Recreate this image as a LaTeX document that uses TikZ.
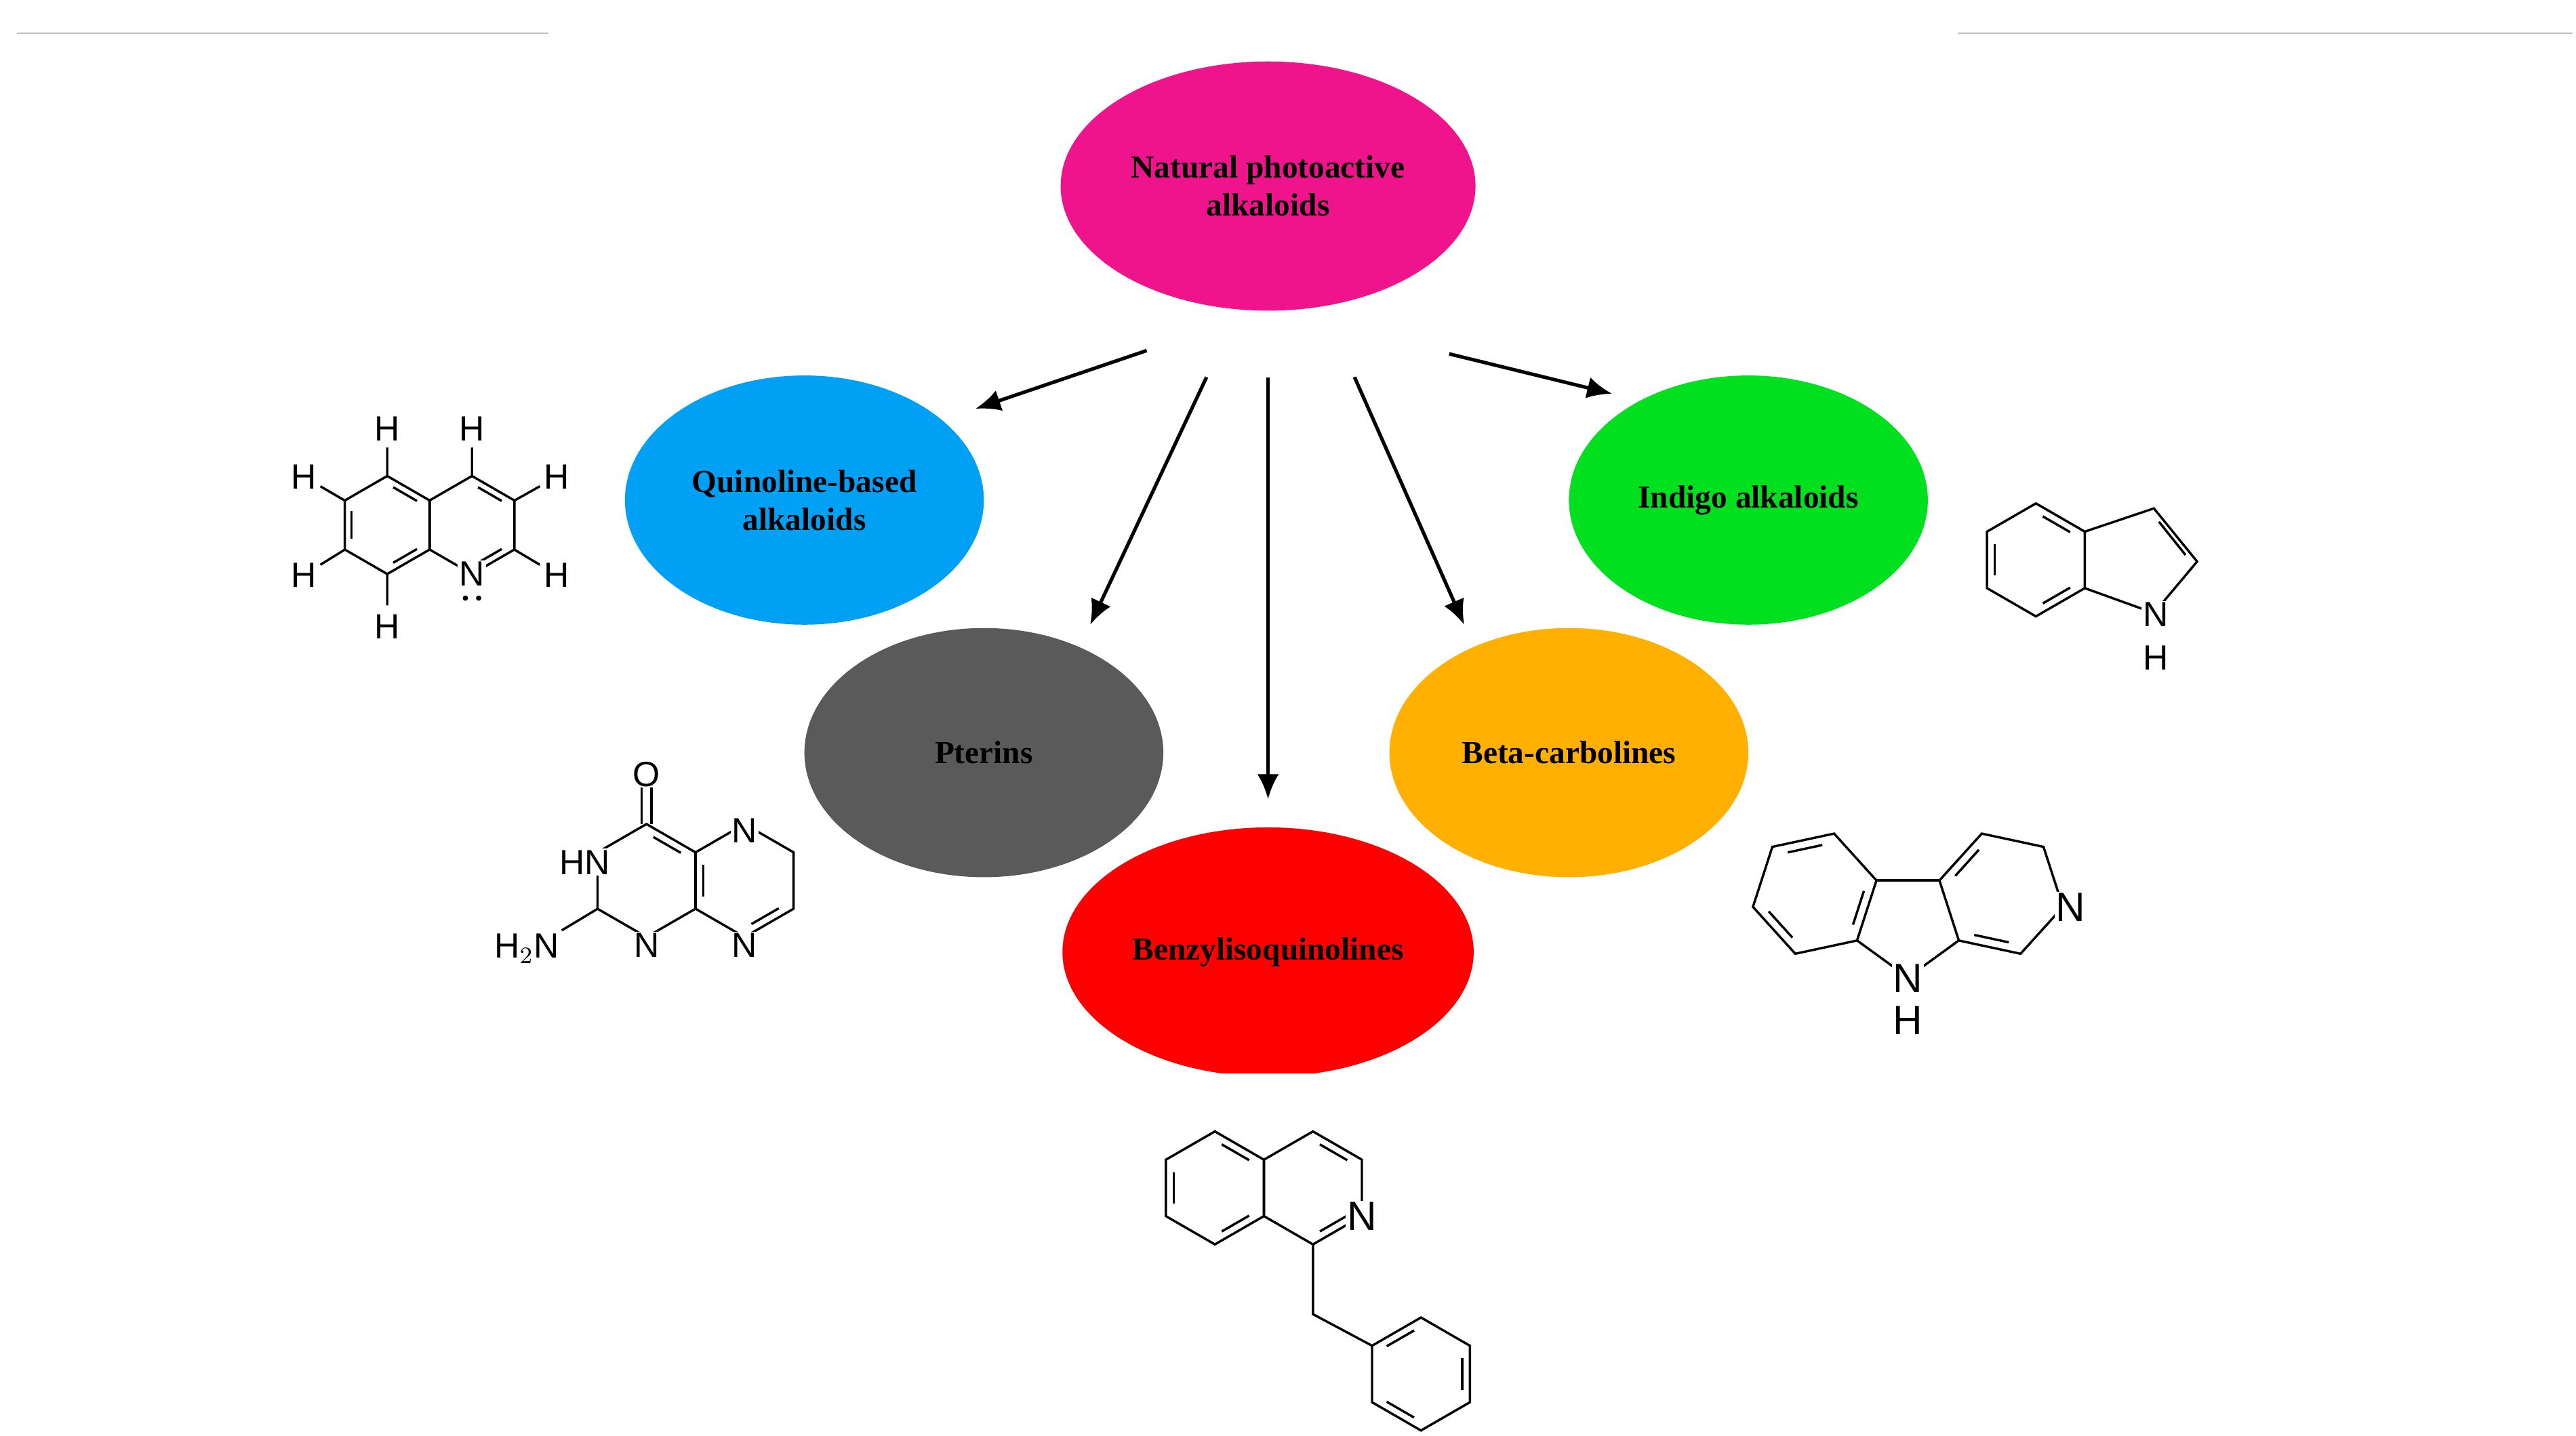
\documentclass[tikz,border=0pt]{standalone}
\usepackage{fontspec}
\setmainfont{Liberation Serif}
\newfontfamily\molfont{Liberation Sans}
\usetikzlibrary{shapes.geometric,arrows.meta,calc}

\tikzset{
	blob/.style={ellipse, draw=none, minimum width=4.32cm, minimum height=3cm, align=center,
		font=\fontsize{11}{13}\selectfont\bfseries},
	link/.style={line width=1.2pt, -{Latex[length=3mm,width=2.6mm]}},
	bond/.style={line width=0.8pt},
	atom/.style={font=\molfont\fontsize{12}{12}\selectfont, fill=white, inner sep=0.5pt},
	rule/.style={line width=0.6pt, black!25}
}
\definecolor{cNat}{HTML}{F0148C}
\definecolor{cQui}{HTML}{00A0F5}
\definecolor{cInd}{HTML}{00E01E}
\definecolor{cPte}{HTML}{5A5A5A}
\definecolor{cBet}{HTML}{FFB000}
\definecolor{cBen}{HTML}{FF0000}

% ring: centre x, centre y, radius, start angle, inner (double) bonds
\newcommand\ring[5]{%
	\draw[bond] ($(#1,#2)+(#4:#3)$) \foreach \k in {1,...,5}{ -- ($(#1,#2)+({#4+60*\k}:#3)$)} -- cycle;
	\foreach \k in {#5}{
		\draw[bond] ($(#1,#2)+({#4+60*\k+9}:0.78*#3)$) -- ($(#1,#2)+({#4+60*\k+51}:0.78*#3)$);}
}

\begin{document}
\begin{tikzpicture}[x=0.02cm, y=-0.02cm]
	\useasboundingbox (0,0) rectangle (1550,864);
	\draw[rule] (10,20) -- (330,20);
	\draw[rule] (1178,20) -- (1548,20);

	% categories
	\node[blob, fill=cNat] (nat) at (763,112) {Natural photoactive\\alkaloids};
	\node[blob, fill=cQui] (qui) at (484,301) {Quinoline-based\\alkaloids};
	\node[blob, fill=cInd] (ind) at (1052,301) {Indigo alkaloids};
	\node[blob, fill=cPte, text=black] (pte) at (592,453) {Pterins};
	\node[blob, fill=cBet] (bet) at (944,453) {Beta-carbolines};
	\begin{scope}
		\clip (0,0) rectangle (1550,646);
		\node[blob, fill=cBen] (ben) at (763,573) {Benzylisoquinolines};
	\end{scope}

	% arrows
	\coordinate (s1) at (690,211); \coordinate (e1) at (587,246);
	\coordinate (s2) at (726,227); \coordinate (e2) at (656,376);
	\coordinate (s3) at (763,227); \coordinate (e3) at (763,481);
	\coordinate (s4) at (815,227); \coordinate (e4) at (881,376);
	\coordinate (s5) at (872,213); \coordinate (e5) at (970,237);
	\foreach \i in {1,...,5}{\draw[link] (s\i) -- (e\i);}

	% quinoline
	\ring{233}{316}{29.5}{30}{0,2,4}
	\ring{284}{316}{29.5}{30}{0,4}
	\node[atom] (qN) at (284,345.5) {N};
	\fill (280,360) circle (1.6) (288,360) circle (1.6);
	\foreach \x/\y/\hx/\hy in {233/286.5/233/258, 284/286.5/284/258, 207.5/301.3/183/287,
		207.5/330.8/183/346, 233/345.5/233/377, 309.5/301.3/335/287, 309.5/330.8/335/346}{
		\draw[bond] (\x,\y) -- ($(\x,\y)!0.6!(\hx,\hy)$);
		\node[atom, fill=none] at (\hx,\hy) {H};}

	% indole
	\ring{1225}{337}{34}{30}{0,2,4}
	\draw[bond] (1254.4,320) -- (1296,306) -- (1322,338) -- (1296,369) -- (1254.4,354);
	\draw[bond] (1299,314) -- (1315,334);
	\node[atom] (iN) at (1297,370) {N};
	\node[atom, fill=none] (iH) at (1297,396) {H};

	% pterin
	\ring{389}{530}{34}{30}{4}
	\ring{448}{530}{34}{30}{0,2}
	\draw[bond] (386,496) -- (386,474) (392,496) -- (392,474);
	\node[atom, fill=none] (pO) at (389,466) {O};
	\node[atom] (pHN) at (352,519) {HN};
	\node[atom] (pN1) at (448,500) {N};
	\node[atom] (pN2) at (389,569) {N};
	\node[atom] (pN3) at (448,569) {N};
	\draw[bond] (359.6,547) -- (338,560);
	\node[atom, fill=none] (pNH2) at (317,571) {H$_2$N};

	% beta-carboline
	\ring{1091.9}{537.9}{38}{-12.1}{0,2,4}
	\ring{1204.1}{537.9}{38}{12.1}{1,3}
	\draw[bond] (1117.3,566) -- (1148,588.3) -- (1178.7,566);
	\draw[bond] (1129,529.9) -- (1167,529.9);
	\node[atom, font=\molfont\fontsize{14}{14}\selectfont] (bN) at (1246,546) {N};
	\node[atom, font=\molfont\fontsize{14}{14}\selectfont] (bNH) at (1148,589) {N};
	\node[atom, fill=none, font=\molfont\fontsize{14}{14}\selectfont] (bH) at (1148,614) {H};

	% benzylisoquinoline
	\ring{731}{715}{34}{30}{0,2,4}
	\ring{790}{715}{34}{30}{0,4}
	\node[atom, font=\molfont\fontsize{14}{14}\selectfont] (qiN) at (819.4,732) {N};
	\draw[bond] (790,749) -- (790,791) -- (825.6,810);
	\ring{855}{827}{34}{-30}{0,2,4}
\end{tikzpicture}
\end{document}
